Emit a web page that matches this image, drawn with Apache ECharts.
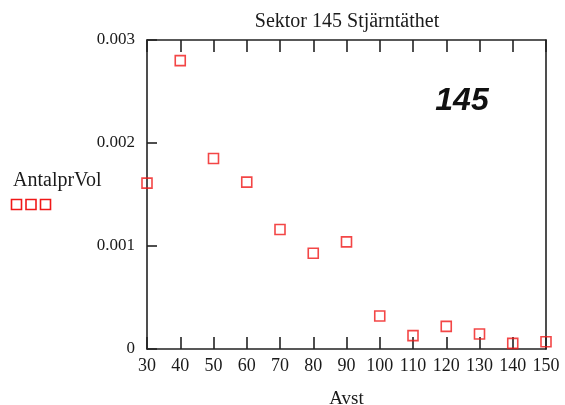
<!DOCTYPE html>
<html>
<head>
<meta charset="utf-8">
<script src="https://cdn.jsdelivr.net/npm/echarts@6/dist/echarts.min.js"></script>
<style>
  html, body { margin: 0; padding: 0; background: #fff; }
  #chart { width: 565px; height: 405px; }
</style>
</head>
<body>
<div id="chart"></div>
<script>
// Distance bins (Avst) and star counts per volume (AntalprVol) for sector 145
const avst = [30, 40, 50, 60, 70, 80, 90, 100, 110, 120, 130, 140, 150];
const antalPrVol = [0.00161, 0.0028, 0.00185, 0.00162, 0.00116, 0.00093, 0.00104,
                    0.00032, 0.00013, 0.00022, 0.000145, 0.000055, 0.00007];
const xTicks = { min: 30, max: 150, step: 10 };
const yTicks = { min: 0, max: 0.003, step: 0.001 };

const serif = '"Liberation Serif", "DejaVu Serif", serif';
const ink = '#1a1a1a';
const axisColor = '#222';
const markRed = '#f01818';

const chart = echarts.init(document.getElementById('chart'), null, { renderer: 'canvas' });

const points = avst.map((x, i) => [x, antalPrVol[i]]);

const frameLine = { show: true, onZero: false, lineStyle: { color: axisColor, width: 1.6 } };
const innerTick = len => ({ show: true, inside: true, length: len, lineStyle: { color: axisColor, width: 1.6 } });

chart.setOption({
  backgroundColor: '#fff',
  animation: false,
  title: {
    text: 'Sektor 145 Stjärntäthet',
    left: 342, textAlign: 'center', top: 7,
    textStyle: { fontFamily: serif, fontSize: 20, fontWeight: 'normal', color: ink }
  },
  grid: { left: 147, right: 19, top: 40, bottom: 56, containLabel: false, outerBoundsMode: 'none' },
  xAxis: [
    {
      type: 'value', position: 'bottom',
      min: xTicks.min, max: xTicks.max, interval: xTicks.step,
      name: 'Avst', nameLocation: 'middle', nameGap: 41,
      nameTextStyle: { fontFamily: serif, fontSize: 19, color: ink },
      axisLine: frameLine,
      axisTick: innerTick(12),
      axisLabel: { fontFamily: serif, fontSize: 18, color: ink, margin: 8 },
      splitLine: { show: false }
    },
    {
      type: 'value', position: 'top',
      min: xTicks.min, max: xTicks.max, interval: xTicks.step,
      axisLine: frameLine,
      axisTick: innerTick(12),
      axisLabel: { show: false },
      splitLine: { show: false }
    }
  ],
  yAxis: [
    {
      type: 'value', position: 'left',
      min: yTicks.min, max: yTicks.max, interval: yTicks.step,
      axisLine: frameLine,
      axisTick: innerTick(10),
      axisLabel: {
        fontFamily: serif, fontSize: 17, color: ink, margin: 12,
        formatter: v => (v === 0 ? '0' : v.toFixed(3))
      },
      splitLine: { show: false }
    },
    {
      type: 'value', position: 'right',
      min: yTicks.min, max: yTicks.max, interval: yTicks.step,
      axisLine: frameLine,
      axisTick: { show: false },
      axisLabel: { show: false },
      splitLine: { show: false }
    }
  ],
  series: [
    {
      name: 'AntalprVol',
      type: 'scatter',
      xAxisIndex: 0, yAxisIndex: 0,
      data: points,
      symbol: 'rect',
      symbolSize: 10,
      clip: false,
      itemStyle: { color: 'rgba(255,255,255,0)', borderColor: markRed, borderWidth: 1.6 }
    }
  ],
  graphic: [
    {
      type: 'text', left: 13, top: 171,
      style: { text: 'AntalprVol', font: '20px ' + serif, fill: ink }
    },
    {
      type: 'group', left: 9, top: 197,
      children: [0, 1, 2].map(k => ({
        type: 'rect',
        shape: { x: k * 14.5, y: 0, width: 10, height: 10 },
        style: { fill: 'none', stroke: markRed, lineWidth: 1.6 }
      }))
    },
    {
      type: 'text', x: 462, y: 101,
      style: {
        text: '145',
        font: 'italic bold 32px "Liberation Sans", Arial, sans-serif',
        fill: '#111', align: 'center', verticalAlign: 'middle'
      }
    }
  ]
});
</script>
</body>
</html>
